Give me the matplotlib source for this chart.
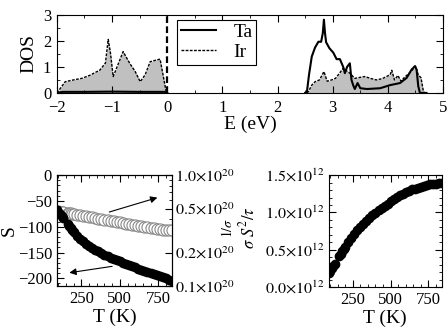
import numpy as np
import matplotlib
matplotlib.use("Agg")
import matplotlib.pyplot as plt
from matplotlib.ticker import MultipleLocator, FixedLocator, FixedFormatter, NullFormatter, LogLocator

plt.rcParams['font.family'] = ['Liberation Serif', 'DejaVu Serif']
plt.rcParams['mathtext.fontset'] = 'stix'
plt.rcParams['font.size'] = 12

# DOS, valence band (Ir filled, Ta near zero)
E_ir_v = [-2.0, -1.98, -1.85, -1.7, -1.55, -1.4, -1.22, -1.12, -1.07, -1.03, -0.98,
          -0.9, -0.8, -0.68, -0.58, -0.49, -0.4, -0.31, -0.19, -0.13, -0.07, -0.02, 0.0]
D_ir_v = [0.0, 0.05, 0.43, 0.5, 0.56, 0.68, 0.88, 1.15, 2.06, 1.55, 0.63,
          1.05, 1.59, 1.14, 0.82, 0.43, 0.7, 1.2, 1.27, 1.3, 0.63, 0.05, 0.0]
E_ta_v = [-2.0, -1.9, -1.5, -1.0, -0.5, -0.05, 0.0]
D_ta_v = [0.0, 0.04, 0.04, 0.05, 0.04, 0.04, 0.0]

# DOS, conduction band
E_ta_c = [2.5, 2.53, 2.57, 2.62, 2.68, 2.74, 2.79, 2.82, 2.84, 2.86, 2.88, 2.94, 3.01, 3.07,
          3.13, 3.19, 3.22, 3.26, 3.31, 3.34, 3.37, 3.4, 3.45, 3.5, 3.62, 3.86, 4.04, 4.22,
          4.34, 4.43, 4.49, 4.52, 4.55, 4.58, 4.7]
D_ta_c = [0.0, 0.0, 0.7, 1.4, 1.75, 1.97, 1.97, 2.3, 2.82, 2.3, 1.95, 1.72, 1.55, 1.3,
          1.3, 1.0, 0.76, 1.0, 1.14, 0.5, 0.3, 0.15, 0.38, 0.18, 0.15, 0.18, 0.3, 0.38,
          0.58, 0.9, 1.03, 0.9, 0.26, 0.0, 0.0]
E_ir_c = [2.53, 2.56, 2.62, 2.68, 2.76, 2.84, 2.9, 2.98, 3.05, 3.12, 3.19, 3.25, 3.31,
          3.4, 3.5, 3.58, 3.7, 3.79, 3.9, 4.04, 4.07, 4.12, 4.18, 4.24, 4.3, 4.41,
          4.5, 4.55, 4.6, 4.64, 4.66]
D_ir_c = [0.0, 0.05, 0.3, 0.43, 0.5, 0.82, 0.45, 0.5, 0.56, 0.75, 0.95, 0.85, 0.76,
          0.56, 0.6, 0.63, 0.55, 0.5, 0.55, 0.7, 0.87, 0.5, 0.67, 0.45, 0.6, 0.8,
          1.03, 0.7, 0.58, 0.1, 0.0]

# transport vs temperature
T = [90, 100, 110, 120, 130, 160, 170, 180, 190, 200, 220, 240, 260, 280, 300, 320, 340,
     360, 380, 400, 420, 440, 460, 480, 500, 520, 540, 560, 580, 600, 620, 640, 660, 680,
     700, 720, 740, 760, 780, 800, 820, 840]
S = [-68, -72, -76, -80, -84, -95, -99, -103, -107, -110, -117, -123, -128, -133, -137,
     -141, -145, -148, -151, -154, -157, -160, -162, -165, -167, -170, -172, -174, -177,
     -179, -181, -183, -185, -187, -189, -191, -193, -195, -197, -200, -203, -206]
inv_sigma = [4.75, 4.72, 4.70, 4.67, 4.65, 4.57, 4.54, 4.52, 4.49, 4.46, 4.41, 4.36, 4.31,
             4.26, 4.21, 4.16, 4.11, 4.06, 4.01, 3.97, 3.92, 3.88, 3.83, 3.79, 3.75, 3.70,
             3.66, 3.62, 3.58, 3.54, 3.50, 3.46, 3.42, 3.38, 3.34, 3.31, 3.28, 3.25, 3.23,
             3.21, 3.19, 3.17]  # x 1e19
pf = [0.19, 0.22, 0.25, 0.28, 0.31, 0.41, 0.44, 0.48, 0.51, 0.54, 0.60, 0.66, 0.71, 0.76,
      0.80, 0.84, 0.88, 0.92, 0.96, 0.99, 1.03, 1.06, 1.09, 1.12, 1.15, 1.18, 1.21, 1.23,
      1.25, 1.27, 1.29, 1.31, 1.32, 1.33, 1.34, 1.355, 1.365, 1.375, 1.38, 1.385, 1.39,
      1.39]  # x 1e12

fig = plt.figure(figsize=(4.48, 3.33), dpi=100)

def style(ax):
    ax.tick_params(which='both', direction='in', top=True, right=True, labelsize=12)
    ax.tick_params(which='major', length=5)
    ax.tick_params(which='minor', length=2.5)

# ---- DOS panel
ax = fig.add_axes([0.127, 0.721, 0.862, 0.234])
ax.fill_between(E_ir_v, D_ir_v, color='#c0c0c0', lw=0)
ax.fill_between(E_ir_c, D_ir_c, color='#c0c0c0', lw=0)
ax.plot(E_ta_v, D_ta_v, 'k-', lw=1.5)
ax.plot(E_ta_c, D_ta_c, 'k-', lw=1.5, label='Ta')
ax.plot(E_ir_v, D_ir_v, color='k', ls=(0, (2, 1)), lw=1)
ax.plot(E_ir_c, D_ir_c, color='k', ls=(0, (2, 1)), lw=1, label='Ir')
ax.axvline(0, color='k', ls=(0, (3, 1.5)), lw=1.6)
ax.set_xlim(-2, 5)
ax.set_ylim(0, 3)
ax.xaxis.set_major_locator(MultipleLocator(1))
ax.xaxis.set_minor_locator(MultipleLocator(0.5))
ax.yaxis.set_major_locator(MultipleLocator(1))
ax.yaxis.set_minor_locator(MultipleLocator(0.5))
style(ax)
ax.tick_params(axis='x', pad=5)
ax.tick_params(axis='y', pad=4)
ax.set_xlabel('E (eV)', fontsize=14, labelpad=0)
ax.set_ylabel('DOS', fontsize=14, labelpad=4)
leg = ax.legend(loc='upper left', bbox_to_anchor=(0.311, 0.94), frameon=True, fancybox=False,
                edgecolor='k', framealpha=1, handlelength=1.8, fontsize=14,
                borderpad=0.2, labelspacing=0.1, handletextpad=0.9, borderaxespad=0)
leg.get_frame().set_linewidth(0.8)

# ---- S and 1/sigma panel
ax1 = fig.add_axes([0.127, 0.141, 0.257, 0.333])
ax1.plot(T, S, 'o', color='k', ms=6, mec='k')
ax1.set_xlim(90, 840)
ax1.set_ylim(-215, 0)
ax1.xaxis.set_major_locator(FixedLocator([250, 500, 750]))
ax1.xaxis.set_minor_locator(MultipleLocator(50))
ax1.yaxis.set_major_locator(MultipleLocator(50))
ax1.yaxis.set_minor_locator(MultipleLocator(10))
ax1.tick_params(which='both', direction='in', top=True, labelsize=12)
ax1.tick_params(which='major', length=5)
ax1.tick_params(which='minor', length=2.5)
ax1.set_xlabel('T (K)', fontsize=14, labelpad=1)
ax1.set_ylabel('S', fontsize=14)
ax1.yaxis.set_label_coords(-0.34, 0.5)

ax2 = ax1.twinx()
ax2.plot(T, np.array(inv_sigma) * 1e19, 'o', mfc='white', mec='#888888', ms=8, mew=0.8)
ax2.set_yscale('log')
ax2.set_ylim(1e19, 1e20)
ax2.yaxis.set_major_locator(FixedLocator([1e19, 2e19, 5e19, 1e20]))
ax2.yaxis.set_major_formatter(FixedFormatter([r'$0.1{\times}10^{20}$', r'$0.2{\times}10^{20}$',
                                              r'$0.5{\times}10^{20}$', r'$1.0{\times}10^{20}$']))
ax2.yaxis.set_minor_locator(LogLocator(subs=np.arange(2, 10)))
ax2.yaxis.set_minor_formatter(NullFormatter())
ax2.tick_params(which='both', direction='in', labelsize=11.5, pad=2)
ax2.tick_params(which='major', length=5)
ax2.tick_params(which='minor', length=2.5)
ax2.set_ylabel(r'$1/\sigma$', fontsize=10, rotation=90)
ax2.yaxis.set_label_coords(1.42, 0.52)
ax1.set_zorder(ax2.get_zorder() + 1)
ax1.patch.set_visible(False)

ax1.annotate('', xy=(762, -42), xytext=(414, -73),
             arrowprops=dict(arrowstyle='-|>', color='k', lw=0.8, mutation_scale=10))
ax1.annotate('', xy=(153, -190), xytext=(468, -176),
             arrowprops=dict(arrowstyle='-|>', color='k', lw=0.8, mutation_scale=10))

# ---- power factor panel
ax3 = fig.add_axes([0.734, 0.138, 0.252, 0.336])
ax3.plot(T, np.array(pf) * 1e12, 'o', color='k', ms=6)
ax3.set_xlim(90, 840)
ax3.set_ylim(0, 1.5e12)
ax3.xaxis.set_major_locator(FixedLocator([250, 500, 750]))
ax3.xaxis.set_minor_locator(MultipleLocator(50))
ax3.yaxis.set_major_locator(FixedLocator([0, 0.5e12, 1.0e12, 1.5e12]))
ax3.yaxis.set_major_formatter(FixedFormatter([r'$0.0{\times}10^{12}$', r'$0.5{\times}10^{12}$',
                                              r'$1.0{\times}10^{12}$', r'$1.5{\times}10^{12}$']))
ax3.yaxis.set_minor_locator(MultipleLocator(0.1e12))
style(ax3)
ax3.tick_params(axis='y', labelsize=11.5)
ax3.set_xlabel('T (K)', fontsize=14, labelpad=1)
ax3.set_ylabel(r'$\sigma\ S^2/\tau$', fontsize=12)
ax3.yaxis.set_label_coords(-0.625, 0.53)

fig.savefig('out.png', dpi=100)
